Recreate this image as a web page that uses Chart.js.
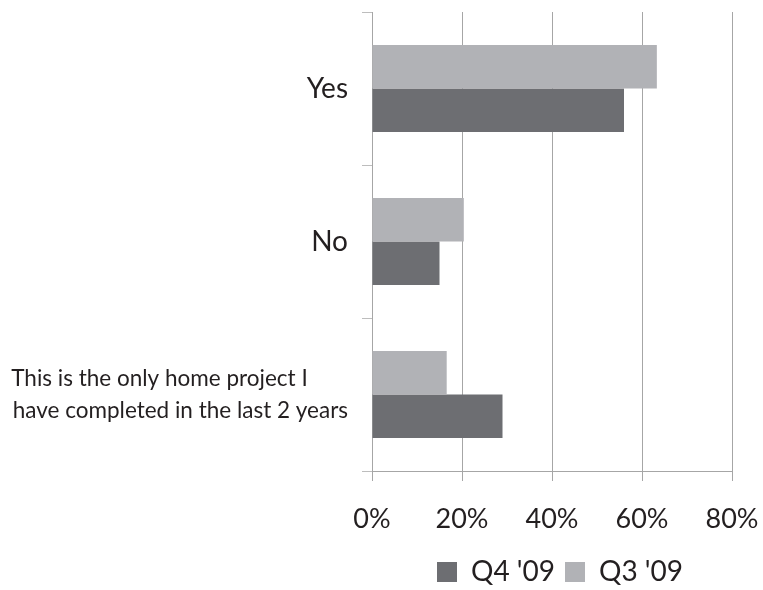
<!DOCTYPE html>
<html>
<head>
<meta charset="utf-8">
<script src="https://cdn.jsdelivr.net/npm/chart.js@4/dist/chart.umd.min.js"></script>
<style>
  html, body { margin: 0; padding: 0; background: #ffffff; }
  #wrap { width: 763px; height: 590px; position: relative; }
</style>
</head>
<body>
<div id="wrap"><canvas id="c" width="763" height="590"></canvas></div>
<script>
// ---- data ----
const categories = ['Yes', 'No', ['This is the only home project I', 'have completed in the last 2 years']];
const seriesNames = ["Q4 '09", "Q3 '09"];
const q4Values = [56.0, 15.0, 29.0];
const q3Values = [63.3, 20.4, 16.6];
const xTickValues = [0, 20, 40, 60, 80];

const textColor = '#231f20';
const gridColor = '#a6a6a6';
const fontFamily = 'Lato, "Open Sans", sans-serif';

// nudge the legend slightly to the right, as in the reference
const legendShift = {
  id: 'legendShift',
  afterLayout(chart) {
    if (chart.legend) {
      chart.legend.left += 8;
      chart.legend.right += 8;
    }
  }
};

const ctx = document.getElementById('c').getContext('2d');
new Chart(ctx, {
  type: 'bar',
  data: {
    labels: categories,
    datasets: [
      { label: seriesNames[1], data: q3Values, backgroundColor: '#b1b2b6', borderWidth: 0,
        categoryPercentage: 0.57, barPercentage: 1.0 },
      { label: seriesNames[0], data: q4Values, backgroundColor: '#6d6e72', borderWidth: 0,
        categoryPercentage: 0.57, barPercentage: 1.0 }
    ]
  },
  plugins: [legendShift],
  options: {
    indexAxis: 'y',
    responsive: false,
    animation: false,
    devicePixelRatio: 1,
    layout: { padding: { top: 12, right: 31, bottom: -6, left: 0 } },
    plugins: {
      legend: {
        position: 'bottom',
        fullSize: false,
        reverse: true,
        labels: {
          boxWidth: 20, boxHeight: 20, padding: 10,
          color: textColor,
          font: { family: fontFamily, size: 28 }
        }
      },
      tooltip: { enabled: false }
    },
    scales: {
      x: {
        min: 0, max: 80,
        afterBuildTicks: (scale) => { scale.ticks = xTickValues.map(v => ({ value: v })); },
        border: { display: true, color: gridColor, width: 1 },
        grid: { color: gridColor, lineWidth: 1, tickLength: 10, drawTicks: true },
        ticks: {
          color: textColor,
          padding: 22,
          font: { family: fontFamily, size: 27 },
          callback: (v) => v + '%'
        },
        afterFit: (scale) => {
          scale.height = 77;
          scale.paddingLeft = 0;
          scale.paddingRight = 0;
        }
      },
      y: {
        border: { display: true, color: gridColor, width: 1 },
        grid: { drawOnChartArea: false, drawTicks: true, tickLength: 10, color: '#bdbdbd', offset: true },
        ticks: {
          color: textColor,
          padding: 14,
          font: (c) => (c.index === 2
            ? { family: fontFamily, size: 22.5, lineHeight: 1.42 }
            : { family: fontFamily, size: 28 }),
          callback: function (value) {
            const lab = this.getLabelForValue(value);
            if (Array.isArray(lab)) {
              return [lab[0] + '\u00a0'.repeat(7), lab[1]];
            }
            return lab;
          }
        },
        afterFit: (scale) => {
          scale.width = 372;
          scale.paddingTop = 0;
          scale.paddingBottom = 0;
        }
      }
    }
  }
});
</script>
</body>
</html>
